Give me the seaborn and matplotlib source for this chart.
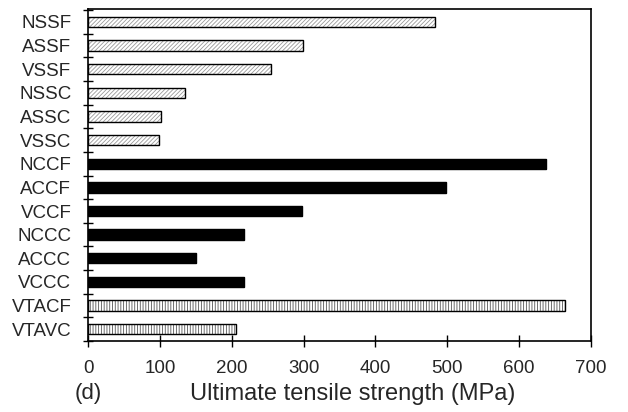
import numpy as np
import pandas as pd
import matplotlib
matplotlib.use("Agg")
import matplotlib.pyplot as plt
import seaborn as sns

categories = ["NSSF", "ASSF", "VSSF", "NSSC", "ASSC", "VSSC",
              "NCCF", "ACCF", "VCCF", "NCCC", "ACCC", "VCCC",
              "VTACF", "VTAVC"]
strength = [483, 299, 255, 135, 102, 99,
            637, 498, 298, 217, 150, 217,
            664, 206]
groups = ["SS"] * 6 + ["CC"] * 6 + ["VTA"] * 2
x_ticks = [0, 100, 200, 300, 400, 500, 600, 700]

sns.set_theme(style="white")
plt.rcParams["font.family"] = ["Liberation Sans", "DejaVu Sans"]
plt.rcParams["hatch.linewidth"] = 0.6

df = pd.DataFrame({"cat": categories, "val": strength, "grp": groups})
fills = {"SS": "white", "CC": "black", "VTA": "white"}
hatches = {"SS": "////////", "CC": "", "VTA": "||||||"}
hatch_cols = {"SS": "#9a9a9a", "CC": "black", "VTA": "#555555"}

fig = plt.figure(figsize=(6.28, 4.12), dpi=100)
ax = fig.add_axes([88 / 628, 1 - 341 / 412, (591 - 88) / 628, (341 - 9) / 412])

sns.barplot(data=df, y="cat", x="val", hue="grp", palette=fills, order=categories,
            orient="h", width=0.44, dodge=False, legend=False, ax=ax,
            saturation=1, errorbar=None)
for p in ax.patches:
    idx = int(round(p.get_y() + p.get_height() / 2))
    g = groups[idx]
    p.set_hatch(hatches[g])
    p.set_edgecolor(hatch_cols[g])
    p.set_linewidth(0.5)

# black outlines
sns.barplot(data=df, y="cat", x="val", order=categories, orient="h", width=0.44,
            fill=False, color="black", linewidth=1.0, ax=ax, errorbar=None)

ax.set_xlim(0, 700)
ax.set_ylim(13.5, -0.55)
ax.set_xticks(x_ticks)
ax.set_xticklabels([str(t) for t in x_ticks], fontsize=13.5)
ax.set_yticks(np.arange(-0.5, 14, 1))
ax.set_yticklabels([])
ax.set_yticks(np.arange(len(categories)), labels=categories, minor=True)
ax.tick_params(axis="y", which="minor", length=0, pad=12, labelsize=13.5)
ax.tick_params(axis="y", which="major", direction="inout", length=7, width=1, color="black", left=True)
ax.tick_params(axis="x", which="major", direction="inout", length=8, width=1, color="black",
               bottom=True, pad=10)
ax.set_xlabel("")
ax.set_ylabel("")
for s in ax.spines.values():
    s.set_visible(True)
    s.set_color("black")
    s.set_linewidth(1.2)

fig.text(353 / 628, 1 - 394 / 412, "Ultimate tensile strength (MPa)", ha="center",
         va="center", fontsize=17)
fig.text(88 / 628, 1 - 393 / 412, "(d)", ha="center", va="center", fontsize=16)

fig.savefig("out.png", dpi=100)
